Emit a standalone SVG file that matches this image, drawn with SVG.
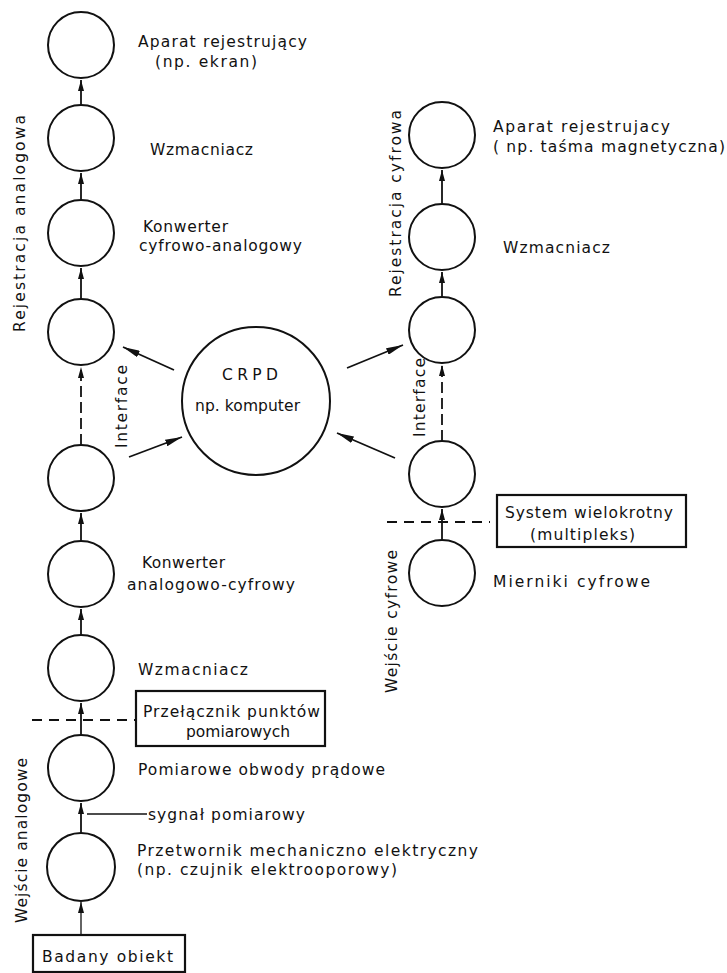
<svg xmlns="http://www.w3.org/2000/svg" width="727" height="973" viewBox="0 0 727 973">
<defs>
<style>
.n{fill:none;stroke:#111;stroke-width:2}
.b{fill:none;stroke:#111;stroke-width:2.2}
.c{fill:none;stroke:#111;stroke-width:1.8}
.d{fill:none;stroke:#111;stroke-width:1.8;stroke-dasharray:11 5}
.h{fill:none;stroke:#111;stroke-width:1.8;stroke-dasharray:10 7}
.l{fill:none;stroke:#111;stroke-width:1.3}
text{font-family:"DejaVu Sans","Liberation Sans",sans-serif;font-size:15.5px;fill:#111}
</style>
<marker id="a" viewBox="0 0 11 6" markerWidth="11" markerHeight="6" refX="11" refY="3" orient="auto" markerUnits="userSpaceOnUse">
<path d="M0,0 L11,3 L0,6 z" fill="#111"/>
</marker>
<marker id="A" viewBox="0 0 17 7" markerWidth="17" markerHeight="7" refX="17" refY="3.5" orient="auto" markerUnits="userSpaceOnUse">
<path d="M0,0 L17,3.5 L0,7 z" fill="#111"/>
</marker>
</defs>
<rect width="727" height="973" fill="#fff"/>

<g id="connectors">
<line class="c" x1="81" y1="105" x2="81" y2="80" marker-end="url(#a)"/>
<line class="c" x1="81" y1="200" x2="81" y2="173" marker-end="url(#a)"/>
<line class="c" x1="81" y1="299" x2="81" y2="268" marker-end="url(#a)"/>
<line class="d" x1="81" y1="445" x2="81" y2="367" marker-end="url(#a)"/>
<line class="c" x1="81" y1="541" x2="81" y2="513" marker-end="url(#a)"/>
<line class="c" x1="81" y1="635" x2="81" y2="609" marker-end="url(#a)"/>
<line class="c" x1="81" y1="735" x2="81" y2="703" marker-end="url(#a)"/>
<line class="c" x1="81" y1="834" x2="81" y2="803" marker-end="url(#a)"/>
<line class="l" x1="81" y1="935" x2="81" y2="902" marker-end="url(#a)"/>
<line class="c" x1="442" y1="204" x2="442" y2="170" marker-end="url(#a)"/>
<line class="c" x1="442" y1="297" x2="442" y2="272" marker-end="url(#a)"/>
<line class="d" x1="442" y1="441" x2="442" y2="365" marker-end="url(#a)"/>
<line class="c" x1="442" y1="540" x2="442" y2="509" marker-end="url(#a)"/>
<line class="c" x1="174" y1="370" x2="123" y2="347" marker-end="url(#A)"/>
<line class="c" x1="129" y1="457" x2="182" y2="437" marker-end="url(#A)"/>
<line class="c" x1="347" y1="368" x2="403" y2="345" marker-end="url(#A)"/>
<line class="c" x1="395" y1="458" x2="337" y2="433" marker-end="url(#A)"/>
<line class="h" x1="32" y1="720" x2="136" y2="720"/>
<line class="h" x1="387" y1="522" x2="490" y2="522"/>
<line class="l" x1="87" y1="814" x2="147" y2="814"/>
</g>

<g id="aparat-analog"><circle class="n" cx="81" cy="45" r="33"/>
<text x="138" y="47" textLength="169" lengthAdjust="spacing">Aparat rejestrujący</text>
<text x="155" y="67" textLength="102" lengthAdjust="spacing">(np. ekran)</text></g>
<g id="wzmacniacz-analog"><circle class="n" cx="81" cy="138" r="33"/>
<text x="150" y="155" textLength="103" lengthAdjust="spacing">Wzmacniacz</text></g>
<g id="konwerter-ca"><circle class="n" cx="81" cy="233" r="33"/>
<text x="143" y="232" textLength="85" lengthAdjust="spacing">Konwerter</text>
<text x="139" y="251" textLength="163" lengthAdjust="spacing">cyfrowo-analogowy</text></g>
<g id="interface-out-left"><circle class="n" cx="81" cy="332" r="33"/></g>
<g id="interface-in-left"><circle class="n" cx="81" cy="478" r="33"/></g>
<g id="konwerter-ac"><circle class="n" cx="81" cy="574" r="33"/>
<text x="142" y="568" textLength="83" lengthAdjust="spacing">Konwerter</text>
<text x="127" y="590" textLength="168" lengthAdjust="spacing">analogowo-cyfrowy</text></g>
<g id="wzmacniacz-in"><circle class="n" cx="81" cy="668" r="33"/>
<text x="138" y="675" textLength="110" lengthAdjust="spacing">Wzmacniacz</text></g>
<g id="przelacznik"><rect class="b" x="136" y="691" width="189" height="55"/>
<text x="143" y="717" textLength="177" lengthAdjust="spacing">Przełącznik punktów</text>
<text x="186" y="737" textLength="104" lengthAdjust="spacing">pomiarowych</text></g>
<g id="obwody"><circle class="n" cx="81" cy="768" r="33"/>
<text x="138" y="775" textLength="247" lengthAdjust="spacing">Pomiarowe obwody prądowe</text></g>
<g id="sygnal-label"><text x="148" y="820" textLength="157" lengthAdjust="spacing">sygnał pomiarowy</text></g>
<g id="przetwornik"><circle class="n" cx="81" cy="867" r="34"/>
<text x="137" y="856" textLength="341" lengthAdjust="spacing">Przetwornik mechaniczno elektryczny</text>
<text x="137" y="875" textLength="260" lengthAdjust="spacing">(np. czujnik elektrooporowy)</text></g>
<g id="badany-obiekt"><rect class="b" x="33" y="935" width="152" height="37"/>
<text x="42" y="962" textLength="131" lengthAdjust="spacing">Badany obiekt</text></g>

<g id="crpd"><circle class="n" cx="256" cy="401" r="74"/>
<text x="222" y="380" textLength="56" lengthAdjust="spacing">CRPD</text>
<text x="195" y="411" textLength="105" lengthAdjust="spacing">np. komputer</text></g>

<g id="aparat-cyfr"><circle class="n" cx="442" cy="135" r="33"/>
<text x="493" y="132" textLength="177" lengthAdjust="spacing">Aparat rejestrujacy</text>
<text x="493" y="152" textLength="232" lengthAdjust="spacing">( np. taśma magnetyczna)</text></g>
<g id="wzmacniacz-cyfr"><circle class="n" cx="442" cy="237" r="33"/>
<text x="503" y="253" textLength="107" lengthAdjust="spacing">Wzmacniacz</text></g>
<g id="interface-out-right"><circle class="n" cx="442" cy="330" r="33"/></g>
<g id="interface-in-right"><circle class="n" cx="442" cy="474" r="33"/></g>
<g id="multipleks"><rect class="b" x="497" y="495" width="189" height="52"/>
<text x="505" y="518" textLength="168" lengthAdjust="spacing">System wielokrotny</text>
<text x="530" y="540" textLength="105" lengthAdjust="spacing">(multipleks)</text></g>
<g id="mierniki"><circle class="n" cx="442" cy="573" r="33"/>
<text x="493" y="587" textLength="157" lengthAdjust="spacing">Mierniki cyfrowe</text></g>

<g id="side-labels">
<text transform="translate(25,332) rotate(-90)" textLength="217" lengthAdjust="spacing">Rejestracja analogowa</text>
<text transform="translate(401,297) rotate(-90)" textLength="187" lengthAdjust="spacing">Rejestracja cyfrowa</text>
<text transform="translate(127,448) rotate(-90)" textLength="83" lengthAdjust="spacing">Interface</text>
<text transform="translate(425,437) rotate(-90)" textLength="79" lengthAdjust="spacing">Interface</text>
<text transform="translate(397,693) rotate(-90)" textLength="143" lengthAdjust="spacing">Wejście cyfrowe</text>
<text transform="translate(27,923) rotate(-90)" textLength="165" lengthAdjust="spacing">Wejście analogowe</text>
</g>
</svg>
